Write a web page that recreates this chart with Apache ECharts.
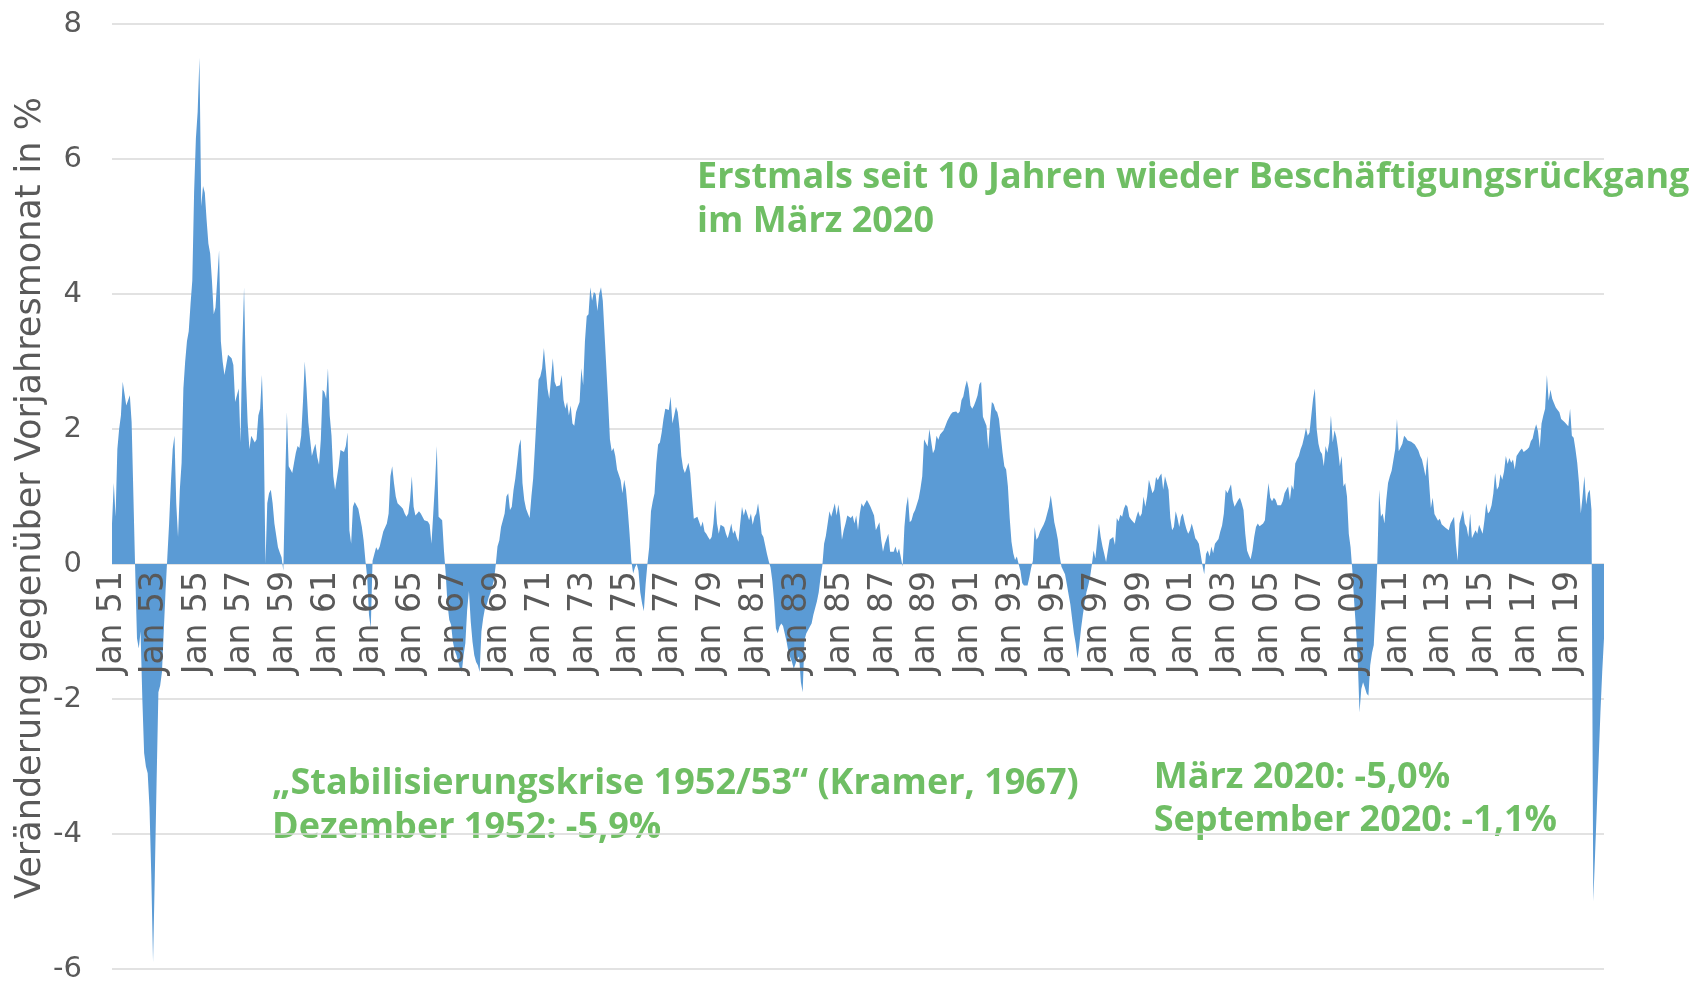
<!DOCTYPE html>
<html>
<head>
<meta charset="utf-8">
<script src="https://cdn.jsdelivr.net/npm/echarts@6/dist/echarts.min.js"></script>
<style>
  html, body { margin: 0; padding: 0; background: #fff; }
  main { width: 1707px; height: 982px; }
</style>
</head>
<body>
<main></main>
<script>
;(function () {
  // monthly change vs. same month of previous year, in %
  const values1950s = [
    0.6, 1.2, 0.7, 1.7, 2.0, 2.2, 2.7, 2.7, 2.35, 2.35, 2.5, 2.1,
    1.0, -0.1, -1.1, -1.25, -1.0, -2.0, -2.8, -3.0, -3.1, -3.6, -4.6, -5.9,
    -4.6, -3.2, -1.9, -1.8, -1.6, -1.0, -0.4, 0.1, 0.6, 1.2, 1.7, 1.9,
    0.9, 0.4, 1.1, 1.5, 2.6, 3.0, 3.3, 3.45, 3.85, 4.2, 5.5, 6.3,
    6.7, 7.5, 5.3, 5.6, 5.5, 5.1, 4.75, 4.6, 4.2, 3.7, 3.8, 3.8,
    4.65, 3.3, 3.0, 2.8, 2.95, 3.1, 3.1, 3.05, 2.95, 2.4, 2.4, 2.6,
    1.8, 3.2, 4.1, 2.8, 2.1, 1.7, 1.9, 1.9, 1.8, 1.85, 2.2, 2.3,
    2.8, 2.0, 0.0, 0.9, 1.05, 1.1, 0.9, 0.6, 0.6, 0.25, 0.17, 0.1,
    -0.1, 1.2, 2.25, 1.45, 1.4, 1.35, 1.5, 1.65, 1.75, 1.72, 1.9, 2.4,
  ]
  const values1960s = [
    3.0, 2.6, 2.1, 1.85, 1.6, 1.7, 1.78, 1.58, 1.47, 1.84, 2.58, 2.55,
    2.45, 2.9, 2.2, 1.9, 1.3, 1.1, 1.1, 1.45, 1.69, 1.71, 1.66, 1.75,
    1.95, 0.5, 0.3, 0.85, 0.92, 0.92, 0.82, 0.8, 0.55, 0.35, 0.05, -0.2,
    -0.75, -0.95, 0.05, 0.15, 0.25, 0.2, 0.26, 0.26, 0.48, 0.5, 0.6, 0.75,
    1.3, 1.45, 1.2, 1.0, 0.9, 0.92, 0.85, 0.82, 0.75, 0.7, 0.75, 0.95,
    1.3, 0.85, 0.72, 0.75, 0.78, 0.75, 0.73, 0.65, 0.65, 0.63, 0.58, 0.3,
    0.75, 1.2, 1.75, 0.7, 0.68, 0.65, 0.2, -0.15, -0.6, -0.83, -0.9, -1.15,
    -1.28, -1.35, -1.45, -1.55, -1.6, -1.35, -1.17, -0.68, -0.4, -0.85, -1.15, -1.35,
    -1.45, -1.5, -1.6, -1.0, -0.8, -0.65, -0.6, -0.5, -0.43, -0.34, -0.24, -0.02,
    0.26, 0.35, 0.55, 0.65, 0.75, 1.0, 1.05, 0.8, 0.85, 1.1, 1.27, 1.5,
  ]
  const values1970s = [
    1.75, 1.85, 1.2, 0.95, 0.82, 0.75, 0.68, 1.0, 1.27, 1.74, 2.23, 2.73,
    2.78, 2.9, 3.2, 2.9, 2.6, 2.45, 2.47, 3.05, 2.7, 2.63, 2.63, 2.65,
    2.8, 2.43, 2.3, 2.4, 2.2, 2.35, 2.08, 2.05, 2.25, 2.33, 2.4, 2.9,
    2.65, 3.3, 3.67, 3.7, 4.1, 3.9, 4.03, 4.0, 3.75, 4.0, 4.1, 3.9,
    3.4, 2.9, 2.4, 1.85, 1.67, 1.72, 1.6, 1.4, 1.42, 1.24, 1.05, 1.25,
    1.1, 0.8, 0.45, 0.05, -0.14, -0.05, 0.0, -0.1, -0.42, -0.58, -0.7, -0.3,
    0.0, 0.25, 0.78, 0.93, 1.05, 1.5, 1.77, 1.8, 1.95, 2.15, 2.3, 2.28,
    2.28, 2.48, 2.08, 2.2, 2.33, 2.25, 2.0, 1.6, 1.42, 1.35, 1.34, 1.5,
    1.35, 1.0, 0.67, 0.68, 0.7, 0.72, 0.55, 0.63, 0.48, 0.45, 0.4, 0.36,
    0.4, 0.6, 0.95, 0.6, 0.45, 0.58, 0.6, 0.55, 0.45, 0.38, 0.48, 0.6,
  ]
  const values1980s = [
    0.45, 0.5, 0.4, 0.33, 0.6, 0.85, 0.72, 0.82, 0.8, 0.65, 0.75, 0.58,
    0.7, 0.75, 0.9, 0.7, 0.45, 0.4, 0.38, 0.15, 0.04, -0.05, -0.25, -0.55,
    -0.95, -1.03, -0.93, -0.88, -0.92, -0.92, -1.15, -1.3, -1.38, -1.45, -1.55, -1.55,
    -1.4, -1.37, -1.75, -1.9, -1.13, -1.03, -1.05, -0.93, -0.88, -0.75, -0.65, -0.55,
    -0.42, -0.2, -0.03, 0.3, 0.42, 0.6, 0.78, 0.7, 0.68, 0.9, 0.72, 0.88,
    0.7, 0.36, 0.5, 0.6, 0.72, 0.72, 0.68, 0.72, 0.6, 0.72, 0.5, 0.75,
    0.9, 0.85, 0.9, 0.95, 0.9, 0.85, 0.83, 0.72, 0.5, 0.5, 0.62, 0.36,
    0.18, 0.3, 0.3, 0.45, 0.18, 0.16, 0.18, 0.26, 0.16, 0.23, 0.1, -0.04,
    0.55, 0.85, 1.0, 0.62, 0.65, 0.75, 0.8, 0.8, 0.97, 1.12, 1.3, 1.85,
    1.84, 1.74, 2.0, 1.82, 1.64, 1.7, 1.9, 1.84, 1.92, 1.92, 1.98, 2.05,
  ]
  const values1990s = [
    2.12, 2.17, 2.22, 2.25, 2.24, 2.26, 2.23, 2.26, 2.43, 2.48, 2.62, 2.72,
    2.6, 2.35, 2.3, 2.35, 2.42, 2.5, 2.66, 2.7, 2.18, 2.18, 2.05, 1.7,
    2.1, 2.4, 2.37, 2.28, 2.25, 2.15, 1.9, 1.65, 1.45, 1.4, 1.15, 0.68,
    0.33, 0.16, 0.06, 0.11, 0.0, -0.1, -0.28, -0.32, -0.3, -0.32, -0.2, -0.06,
    0.05, 0.55, 0.36, 0.4, 0.48, 0.5, 0.58, 0.65, 0.75, 0.85, 1.02, 0.83,
    0.62, 0.5, 0.36, 0.12, -0.04, -0.05, -0.15, -0.3, -0.45, -0.6, -0.82, -1.03,
    -1.18, -1.4, -1.2, -0.95, -0.75, -0.58, -0.42, -0.32, -0.2, -0.02, 0.2, 0.08,
    0.1, 0.6, 0.4, 0.26, 0.15, 0.03, 0.2, 0.36, 0.38, 0.4, 0.28, 0.68,
    0.63, 0.73, 0.7, 0.82, 0.88, 0.85, 0.7, 0.66, 0.63, 0.6, 0.7, 0.78,
    0.7, 0.75, 1.0, 0.85, 1.0, 1.25, 1.25, 1.05, 1.1, 1.29, 1.24, 1.3,
  ]
  const values2000s = [
    1.34, 1.1, 1.3, 1.29, 1.1, 0.68, 0.5, 0.55, 0.78, 0.68, 0.55, 0.7,
    0.75, 0.62, 0.52, 0.45, 0.5, 0.6, 0.5, 0.38, 0.35, 0.3, 0.14, -0.02,
    -0.15, 0.15, 0.2, 0.11, 0.26, 0.16, 0.3, 0.32, 0.37, 0.48, 0.57, 0.75,
    1.1, 1.05, 1.05, 1.18, 0.95, 0.85, 0.9, 0.95, 0.98, 0.9, 0.8, 0.45,
    0.2, 0.13, 0.07, 0.2, 0.4, 0.55, 0.6, 0.56, 0.56, 0.6, 0.65, 0.95,
    1.2, 0.98, 0.93, 0.98, 0.95, 0.87, 0.88, 0.87, 0.93, 1.05, 1.1, 1.15,
    0.95, 1.17, 1.1, 1.49, 1.55, 1.6, 1.7, 1.77, 1.88, 2.02, 1.9, 1.95,
    2.2, 2.45, 2.6, 2.0, 1.78, 1.67, 1.63, 1.45, 1.75, 1.65, 1.8, 2.2,
    1.8, 1.98, 1.88, 1.7, 1.45, 1.6, 1.15, 1.2, 1.0, 0.45, 0.25, -0.1,
    -0.55, -0.95, -1.4, -2.2, -1.85, -1.75, -1.83, -1.92, -1.95, -1.5, -1.32, -1.2,
  ]
  const values2010s = [
    -0.65, 0.05, 1.1, 0.7, 0.75, 0.6, 0.95, 1.2, 1.3, 1.38, 1.4, 1.7,
    2.15, 1.67, 1.67, 1.78, 1.9, 1.87, 1.83, 1.84, 1.81, 1.8, 1.77, 1.77,
    1.68, 1.6, 1.55, 1.43, 1.3, 1.6, 1.2, 0.83, 0.98, 0.74, 0.74, 0.64,
    0.67, 0.59, 0.59, 0.54, 0.56, 0.5, 0.6, 0.6, 0.7, 0.3, 0.05, 0.6,
    0.7, 0.8, 0.6, 0.55, 0.4, 0.75, 0.38, 0.37, 0.5, 0.45, 0.58, 0.6,
    0.45, 0.65, 0.9, 0.75, 0.78, 0.87, 1.05, 1.35, 1.1, 1.15, 1.33, 1.25,
    1.37, 1.6, 1.48, 1.57, 1.5, 1.55, 1.4, 1.6, 1.62, 1.68, 1.71, 1.66,
    1.68, 1.7, 1.73, 1.82, 1.86, 1.98, 2.07, 1.97, 1.72, 2.08, 2.2, 2.3,
    2.8, 2.42, 2.58, 2.45, 2.38, 2.32, 2.28, 2.25, 2.15, 2.16, 2.1, 2.12,
    2.04, 2.3, 1.9, 1.87, 1.7, 1.5, 1.2, 0.75, 1.0, 1.3, 0.88, 1.05,
  ]
  const values2020 = [1.1, 0.8, -5.0, -4.3, -3.6, -2.9, -2.2, -1.6, -1.1]

  const firstYear = 1951
  const monthNames = ['Jan', 'Feb', 'Mär', 'Apr', 'Mai', 'Jun', 'Jul', 'Aug', 'Sep', 'Okt', 'Nov', 'Dez']
  const yTicks = { min: -6, max: 8, interval: 2 }
  const yTitle = 'Veränderung gegenüber Vorjahresmonat in %'

  const values = [].concat(values1950s, values1960s, values1970s, values1980s, values1990s, values2000s, values2010s, values2020)
  const categories = values.map((_, i) => {
    const year = firstYear + Math.floor(i / 12)
    return `${monthNames[i % 12]} ${String(year % 100).padStart(2, '0')}`
  })

  const axisFont = "'Century Gothic', 'DejaVu Sans', sans-serif"
  const noteFont = "bold 36px 'Open Sans', 'Noto Sans', sans-serif"
  const green = '#6fbe64'
  const grey = '#595959'
  const gridGrey = '#d9d9d9'

  // plot box, in px
  const gridTop = 24
  const gridBottom = 13
  const plotHeight = 982 - gridTop - gridBottom
  // the category axis sits on the zero line: lift it from the bottom edge
  const zeroOffset = -plotHeight * (0 - yTicks.min) / (yTicks.max - yTicks.min)

  const chart = echarts.init(document.querySelector('main'))
  chart.setOption({
    animation: false,
    grid: { left: 112, right: 103, top: gridTop, bottom: gridBottom, outerBoundsMode: 'none', containLabel: false },
    xAxis: {
      type: 'category',
      data: categories,
      boundaryGap: false,
      position: 'bottom',
      offset: zeroOffset,
      z: 5,
      axisLine: { show: false, onZero: false },
      axisTick: { show: false },
      axisLabel: {
        rotate: 90,
        margin: 7,
        interval: (index) => index % 24 === 0,
        color: grey,
        fontFamily: axisFont,
        fontSize: 33,
      },
      splitLine: { show: false },
    },
    yAxis: {
      type: 'value',
      min: yTicks.min,
      max: yTicks.max,
      interval: yTicks.interval,
      axisLine: { show: false },
      axisTick: { show: false },
      axisLabel: { color: grey, fontFamily: axisFont, fontSize: 29, margin: 30 },
      splitLine: { lineStyle: { color: gridGrey, width: 1.5 } },
    },
    series: [
      {
        type: 'line',
        data: values,
        symbol: 'none',
        silent: true,
        lineStyle: { width: 0 },
        areaStyle: { color: '#5b9bd5', opacity: 1 },
      },
    ],
    graphic: [
      {
        type: 'text',
        x: 31,
        y: 498,
        rotation: Math.PI / 2,
        style: {
          text: yTitle,
          font: `35px ${axisFont}`,
          fill: grey,
          align: 'center',
          verticalAlign: 'middle',
        },
      },
      {
        type: 'text',
        left: 697,
        top: 156,
        style: {
          text: 'Erstmals seit 10 Jahren wieder Beschäftigungsrückgang\nim März 2020',
          font: noteFont,
          fill: green,
          lineHeight: 44,
        },
      },
      {
        type: 'text',
        left: 272,
        top: 762,
        style: {
          text: '„Stabilisierungskrise 1952/53“ (Kramer, 1967)\nDezember 1952: -5,9%',
          font: noteFont,
          fill: green,
          lineHeight: 44,
        },
      },
      {
        type: 'text',
        right: 150,
        top: 756,
        style: {
          text: 'März 2020: -5,0%\nSeptember 2020: -1,1%',
          font: noteFont,
          fill: green,
          lineHeight: 43,
          align: 'right',
        },
      },
    ],
  })
})()
</script>
</body>
</html>
